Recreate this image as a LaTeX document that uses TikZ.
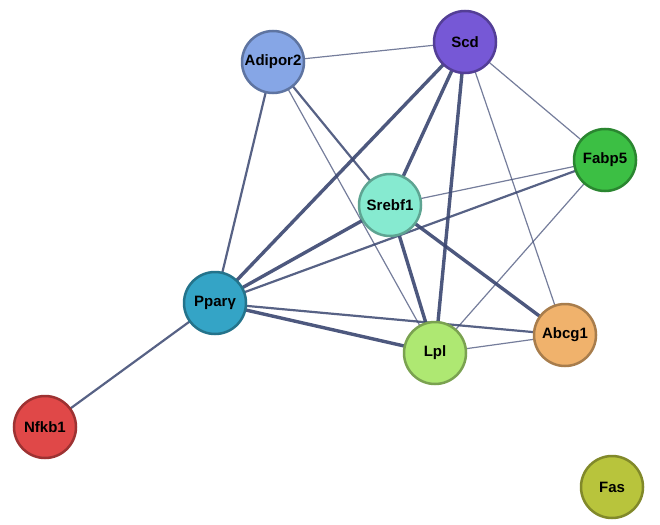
\documentclass[tikz,border=0pt]{standalone}
\usepackage{fontspec}
\setmainfont{Liberation Sans}
\begin{document}
\begin{tikzpicture}[x=1pt,y=-1pt,
 prot/.style={circle,draw=#1!70!black,line width=2.5pt,fill=#1,minimum size=62pt,inner sep=0pt,font=\fontsize{15}{15}\selectfont\bfseries},
 thin/.style={draw=edge,line width=1.2pt,opacity=0.7},
 med/.style={draw=edge,line width=2.2pt,opacity=0.85},
 thick/.style={draw=edge,line width=3.4pt,opacity=0.9}]
\definecolor{edge}{HTML}{3A4670}
\definecolor{cA}{HTML}{86A6E6}\definecolor{cS}{HTML}{7658D6}
\definecolor{cF}{HTML}{3CBF44}\definecolor{cR}{HTML}{86EAD0}
\definecolor{cP}{HTML}{34A4C6}\definecolor{cL}{HTML}{AEE872}
\definecolor{cB}{HTML}{F0B26C}\definecolor{cN}{HTML}{E04848}
\definecolor{cG}{HTML}{B8C43C}
\useasboundingbox (0,0) rectangle (660,524);
\coordinate (a) at (273,62); \coordinate (s) at (465,42);
\coordinate (f) at (605,160); \coordinate (r) at (390,205);
\coordinate (p) at (215,303); \coordinate (l) at (435,353);
\coordinate (b) at (565,335); \coordinate (n) at (45,427);
\coordinate (g) at (612,487);
\draw[thin] (a)--(s); \draw[med] (a)--(p); \draw[med] (a)--(r); \draw[thin] (a)--(l);
\draw[thick] (s)--(p); \draw[thick] (s)--(r); \draw[thick] (s)--(l);
\draw[thin] (s)--(f); \draw[thin] (s)--(b);
\draw[med] (f)--(p); \draw[thin] (f)--(r); \draw[thin] (f)--(l);
\draw[thick] (r)--(p); \draw[thick] (r)--(l); \draw[thick] (r)--(b);
\draw[thick] (p)--(l); \draw[med] (p)--(b); \draw[med] (p)--(n); \draw[thin] (l)--(b);
\node[prot=cA] (A) at (a) {Adipor2};
\node[prot=cS] (S) at (s) {Scd};
\node[prot=cF] (F) at (f) {Fabp5};
\node[prot=cR] (R) at (r) {Srebf1};
\node[prot=cP] (P) at (p) {Pparγ};
\node[prot=cL] (L) at (l) {Lpl};
\node[prot=cB] (B) at (b) {Abcg1};
\node[prot=cN] (N) at (n) {Nfkb1};
\node[prot=cG] (G) at (g) {Fas};
\end{tikzpicture}
\end{document}
